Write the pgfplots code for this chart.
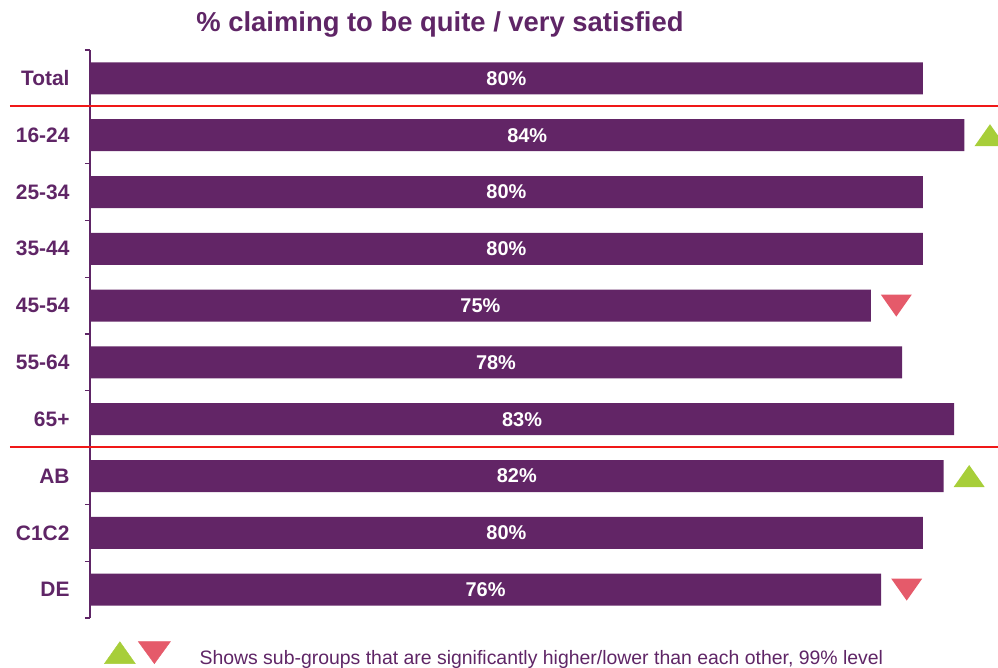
\documentclass[border=0pt]{standalone}
\usepackage{pgfplots}
\usepackage{pgfplotstable}
\pgfplotsset{compat=1.18}
\usepackage{fontspec}
\setmainfont{Liberation Sans}
\definecolor{barpurple}{HTML}{622566}
\definecolor{txtpurple}{HTML}{5F2566}
\definecolor{upgreen}{HTML}{A7CE39}
\definecolor{downred}{HTML}{E55A6A}
\definecolor{sepred}{HTML}{F01818}

\pgfdeclareplotmark{tup}{%
  \pgfpathmoveto{\pgfqpoint{-15.5bp}{-11bp}}%
  \pgfpathlineto{\pgfqpoint{15.5bp}{-11bp}}%
  \pgfpathlineto{\pgfqpoint{0bp}{11bp}}%
  \pgfpathclose\pgfusepathqfill}
\pgfdeclareplotmark{tdown}{%
  \pgfpathmoveto{\pgfqpoint{-15.5bp}{11bp}}%
  \pgfpathlineto{\pgfqpoint{15.5bp}{11bp}}%
  \pgfpathlineto{\pgfqpoint{0bp}{-11bp}}%
  \pgfpathclose\pgfusepathqfill}

\pgfplotstableread{
pos val
0 80
1 84
2 80
3 80
4 75
5 78
6 83
7 82
8 80
9 76
}\datatable

\pgfplotstableread{
pos x
1 86.45
7 84.45
}\uptable

\pgfplotstableread{
pos x
4 77.45
9 78.45
}\downtable

\begin{document}
\begin{tikzpicture}
\useasboundingbox (0,0) rectangle (998bp,668bp);
\node[font=\fontsize{27.5}{32}\selectfont\bfseries, text=txtpurple] at (440bp,644bp) {\% claiming to be quite / very satisfied};
\begin{axis}[
  at={(90bp,50bp)}, anchor=south west,
  scale only axis, width=908bp, height=568bp,
  xmin=0, xmax=87.22, ymin=-0.5, ymax=9.5, y dir=reverse,
  hide x axis,
  axis y line*=left,
  axis line style={draw=txtpurple, line width=1.5bp, -},
  ytick={0,...,9},
  yticklabels={Total,16-24,25-34,35-44,45-54,55-64,65+,AB,C1C2,DE},
  major tick length=0pt,
  minor ytick={-0.5,0.5,...,9.5},
  minor tick length=5bp,
  tick align=outside,
  tick pos=left,
  minor tick style={draw=txtpurple, line width=1.2bp},
  yticklabel style={font=\fontsize{21}{24}\selectfont\bfseries, text=txtpurple, xshift=-17bp},
  /pgf/number format/assume math mode=true,
  clip=false,
  legend style={at={(axis description cs:0.0154,-0.0651)}, anchor=west, draw=none, fill=none, inner sep=0pt,
    font=\fontsize{19.5}{22}\selectfont, text=txtpurple},
]
\addplot[forget plot, xbar, bar width=32bp, bar shift=0pt, fill=barpurple, draw=none]
  table[x=val, y=pos] {\datatable};
\addplot[forget plot, only marks, mark=*, mark size=0pt, mark options={draw=none, fill=none},
  point meta=explicit,
  nodes near coords={\pgfmathprintnumber{\pgfplotspointmeta}\%},
  nodes near coords style={font=\fontsize{20}{24}\selectfont\bfseries, text=white, anchor=center}]
  table[x expr=\thisrow{val}/2, y=pos, meta=val] {\datatable};
\addplot[forget plot, only marks, mark=tup, color=upgreen] table[x=x, y=pos] {\uptable};
\addplot[forget plot, only marks, mark=tdown, color=downred] table[x=x, y=pos] {\downtable};
\draw[sepred, line width=1.6bp] (axis cs:-7.7,0.49) -- (axis cs:87.22,0.49);
\draw[sepred, line width=1.6bp] (axis cs:-7.7,6.49) -- (axis cs:87.22,6.49);
\addlegendimage{legend image code/.code={
  \fill[upgreen] (0bp,-5bp) -- (31bp,-5bp) -- (15.5bp,17bp) -- cycle;
  \fill[downred] (34bp,17bp) -- (66bp,17bp) -- (50bp,-5bp) -- cycle;
  \path (93bp,6bp);
}}
\addlegendentry{Shows sub-groups that are significantly higher/lower than each other, 99\% level}
\end{axis}
\end{tikzpicture}
\end{document}
